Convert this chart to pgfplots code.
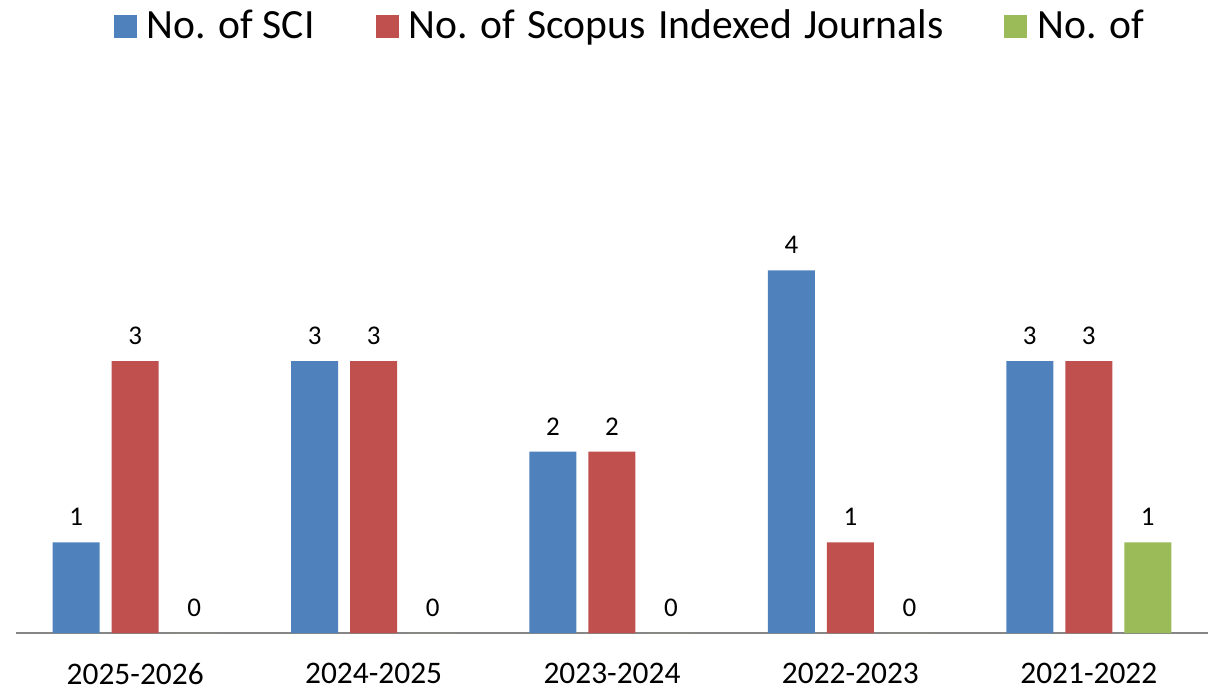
\documentclass[border=0pt]{standalone}
\usepackage{pgfplots}
\pgfplotsset{compat=1.18}
\usepackage{fontspec}
\setmainfont{Carlito}
\definecolor{cblue}{RGB}{79,129,189}
\definecolor{cred}{RGB}{192,80,77}
\definecolor{cgreen}{RGB}{155,187,89}
\definecolor{caxis}{RGB}{134,134,134}
\begin{document}
\begin{tikzpicture}
\useasboundingbox (0,0) rectangle (608pt,345.5pt);
\begin{axis}[
  at={(8pt,29pt)}, anchor=south west,
  scale only axis, width=596pt, height=272pt,
  ybar=6pt, bar width=23.5pt,
  xmin=-0.5, xmax=4.5, ymin=0, ymax=6,
  enlargelimits=false,
  axis x line*=bottom, hide y axis,
  x axis line style={draw=caxis, line width=1pt, -},
  xtick={0,1,2,3,4},
  xticklabels={2025-2026,2024-2025,2023-2024,2022-2023,2021-2022},
  major tick length=0pt,
  xticklabel style={font=\fontsize{15.7}{18}\selectfont, yshift=-11.5pt},
  /pgf/number format/assume math mode=true,
  nodes near coords,
  every node near coord/.append style={font=\fontsize{13.5}{16}\selectfont, yshift=4.8pt, text=black},
  every axis plot post/.append style={legend image code/.code={\fill[##1,draw=none] (0pt,-5.75pt) rectangle (11.5pt,5.75pt);}},
  legend columns=3,
  legend style={draw=none, fill=none, inner sep=0pt, outer sep=0pt,
    at={(0.0822,1.1158)}, anchor=west,
    font=\fontsize{20.8}{24}\selectfont,
    nodes={inner sep=0pt},
    /tikz/every odd column/.append style={column sep=5pt},
    /tikz/every even column/.append style={column sep=30.5pt}},
]
\addplot[fill=cblue, draw=none] coordinates {(0,1) (1,3) (2,2) (3,4) (4,3)};
\addplot[fill=cred, draw=none] coordinates {(0,3) (1,3) (2,2) (3,1) (4,3)};
\addplot[fill=cgreen, draw=none] coordinates {(0,0) (1,0) (2,0) (3,0) (4,1)};
\legend{No. of SCI, No. of\hspace{1.5pt} Scopus\hspace{1.5pt} Indexed\hspace{1.5pt} Journals, No. of}
\end{axis}
\end{tikzpicture}
\end{document}
